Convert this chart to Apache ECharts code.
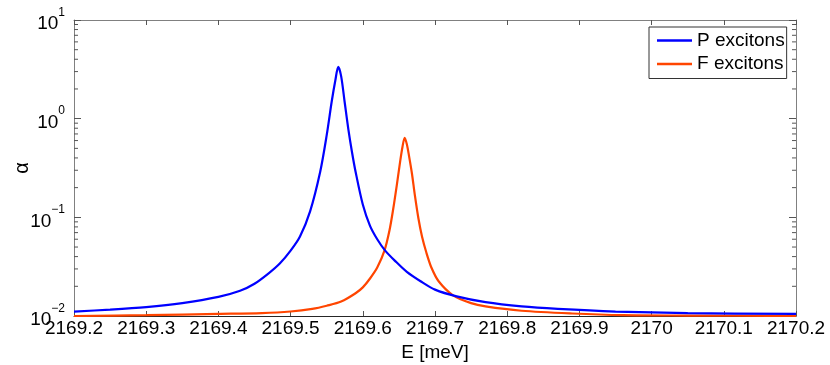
<!DOCTYPE html>
<html>
<head>
<meta charset="utf-8">
<script src="https://cdn.jsdelivr.net/npm/echarts@6/dist/echarts.min.js"></script>
<style>
  html, body { margin: 0; padding: 0; background: #fff; }
  #chart { width: 830px; height: 365px; }
</style>
</head>
<body>
<div id="chart"></div>
<script>
// P excitons
let energyP = [2169.20, 2169.25, 2169.30, 2169.35, 2169.40, 2169.43, 2169.45, 2169.47, 2169.485, 2169.50,
  2169.513, 2169.527, 2169.541, 2169.55, 2169.557, 2169.562, 2169.566, 2169.57, 2169.575, 2169.58,
  2169.585, 2169.59, 2169.60, 2169.61, 2169.62, 2169.631, 2169.645, 2169.661, 2169.68, 2169.70,
  2169.73, 2169.77, 2169.82, 2169.87, 2169.95, 2170.05, 2170.20];
let alphaP = [0.0111, 0.0116, 0.0123, 0.0135, 0.0156, 0.0180, 0.0212, 0.0272, 0.034, 0.046,
  0.064, 0.115, 0.29, 0.68, 1.50, 2.45, 3.35, 2.70, 1.45, 0.78,
  0.46, 0.29, 0.135, 0.082, 0.060, 0.046, 0.036, 0.028, 0.0225, 0.0185,
  0.0158, 0.0138, 0.0125, 0.0118, 0.0111, 0.0107, 0.0105];

// F excitons
let energyF = [2169.20, 2169.30, 2169.40, 2169.46, 2169.50, 2169.53, 2169.55, 2169.57, 2169.59, 2169.60,
  2169.61, 2169.62, 2169.63, 2169.637, 2169.642, 2169.647, 2169.652, 2169.655, 2169.658, 2169.661,
  2169.664, 2169.668, 2169.672, 2169.677, 2169.682, 2169.688, 2169.695, 2169.705, 2169.725, 2169.75,
  2169.77, 2169.82, 2169.89, 2169.96, 2170.05, 2170.20];
let alphaF = [0.0100, 0.0102, 0.0105, 0.0107, 0.0111, 0.0118, 0.0127, 0.0140, 0.0170, 0.0195,
  0.0240, 0.031, 0.046, 0.074, 0.12, 0.21, 0.38, 0.52, 0.64, 0.55,
  0.42, 0.28, 0.17, 0.098, 0.064, 0.044, 0.031, 0.0225, 0.0162, 0.0135,
  0.0125, 0.0113, 0.0106, 0.0102, 0.0101, 0.0100];

let minorTicks = [0.02, 0.03, 0.04, 0.05, 0.06, 0.07, 0.08, 0.09,
  0.2, 0.3, 0.4, 0.5, 0.6, 0.7, 0.8, 0.9,
  2, 3, 4, 5, 6, 7, 8, 9];

let xMin = 2169.2, xMax = 2170.2;
let font = 'Liberation Sans, Arial, sans-serif';
let boxColor = '#808080';

let chart = echarts.init(document.getElementById('chart'));

let toPairs = (xs, ys) => xs.map((x, i) => [x, ys[i]]);

let option = {
  animation: false,
  grid: { left: 74, right: 34, top: 20, bottom: 49, outerBoundsMode: 'none', containLabel: false },
  legend: {
    data: ['P excitons', 'F excitons'],
    orient: 'vertical',
    left: 649,
    top: 27,
    padding: [4, 2, 5, 8],
    icon: 'rect',
    itemWidth: 35,
    itemHeight: 2.5,
    itemGap: 4.5,
    backgroundColor: '#fff',
    borderColor: '#333',
    borderWidth: 1,
    textStyle: { fontFamily: font, fontSize: 19, color: '#000', lineHeight: 19 }
  },
  xAxis: [{
    type: 'value',
    min: xMin,
    max: xMax,
    interval: 0.1,
    name: 'E [meV]',
    nameLocation: 'middle',
    nameGap: 27,
    nameMoveOverlap: false,
    nameTextStyle: { fontFamily: font, fontSize: 19, color: '#000', verticalAlign: 'top' },
    axisLine: { lineStyle: { color: '#262626', width: 1 } },
    axisTick: { inside: true, length: 5, lineStyle: { color: '#555' } },
    axisLabel: {
      fontFamily: font, fontSize: 19, color: '#000', margin: 3,
      formatter: v => String(parseFloat(v.toFixed(1)))
    },
    splitLine: { show: false }
  }, {
    type: 'value',
    position: 'top',
    min: xMin,
    max: xMax,
    interval: 0.1,
    axisLine: { lineStyle: { color: boxColor } },
    axisTick: { inside: true, length: 5, lineStyle: { color: '#555' } },
    axisLabel: { show: false },
    splitLine: { show: false }
  }],
  yAxis: [{
    type: 'log',
    logBase: 10,
    min: 0.01,
    max: 10,
    name: 'α',
    nameLocation: 'middle',
    nameGap: 42,
    nameMoveOverlap: false,
    nameTextStyle: { fontFamily: font, fontSize: 20, color: '#000' },
    axisLine: { show: true, lineStyle: { color: boxColor } },
    axisTick: { inside: true, length: 7, lineStyle: { color: '#555' } },
    axisLabel: {
      margin: 9,
      formatter: function (v) {
        let e = Math.round(Math.log10(v));
        return '{b|10}{e|' + (e < 0 ? '\u2212' + (-e) : e) + '}';
      },
      rich: {
        b: { fontFamily: font, fontSize: 19, color: '#000', padding: [8, 0, 0, 0] },
        e: { fontFamily: font, fontSize: 12, color: '#000', verticalAlign: 'top', padding: [0, 0, 10, 0] }
      }
    },
    splitLine: { show: false }
  }, {
    type: 'log',
    logBase: 10,
    min: 0.01,
    max: 10,
    position: 'right',
    axisLine: { show: true, lineStyle: { color: boxColor } },
    axisTick: { inside: true, length: 7, lineStyle: { color: '#555' } },
    axisLabel: { show: false },
    splitLine: { show: false }
  }],
  series: [{
    // minor log ticks on both sides of the box
    type: 'custom',
    silent: true,
    xAxisIndex: 0,
    yAxisIndex: 0,
    data: minorTicks.map(v => [xMin, v]),
    renderItem: function (params, api) {
      let l = api.coord([xMin, api.value(1)]);
      let r = api.coord([xMax, api.value(1)]);
      let style = { stroke: '#555', lineWidth: 1 };
      return {
        type: 'group',
        children: [
          { type: 'line', shape: { x1: l[0], y1: l[1], x2: l[0] + 4, y2: l[1] }, style: style },
          { type: 'line', shape: { x1: r[0], y1: r[1], x2: r[0] - 4, y2: r[1] }, style: style }
        ]
      };
    },
    z: 1
  }, {
    name: 'P excitons',
    type: 'line',
    data: toPairs(energyP, alphaP),
    symbol: 'none',
    smooth: 0.3,
    lineStyle: { color: '#0000ff', width: 2.2 },
    itemStyle: { color: '#0000ff' },
    z: 3
  }, {
    name: 'F excitons',
    type: 'line',
    data: toPairs(energyF, alphaF),
    symbol: 'none',
    smooth: 0.3,
    lineStyle: { color: '#ff4500', width: 2.2 },
    itemStyle: { color: '#ff4500' },
    z: 2
  }]
};

chart.setOption(option);
</script>
</body>
</html>
